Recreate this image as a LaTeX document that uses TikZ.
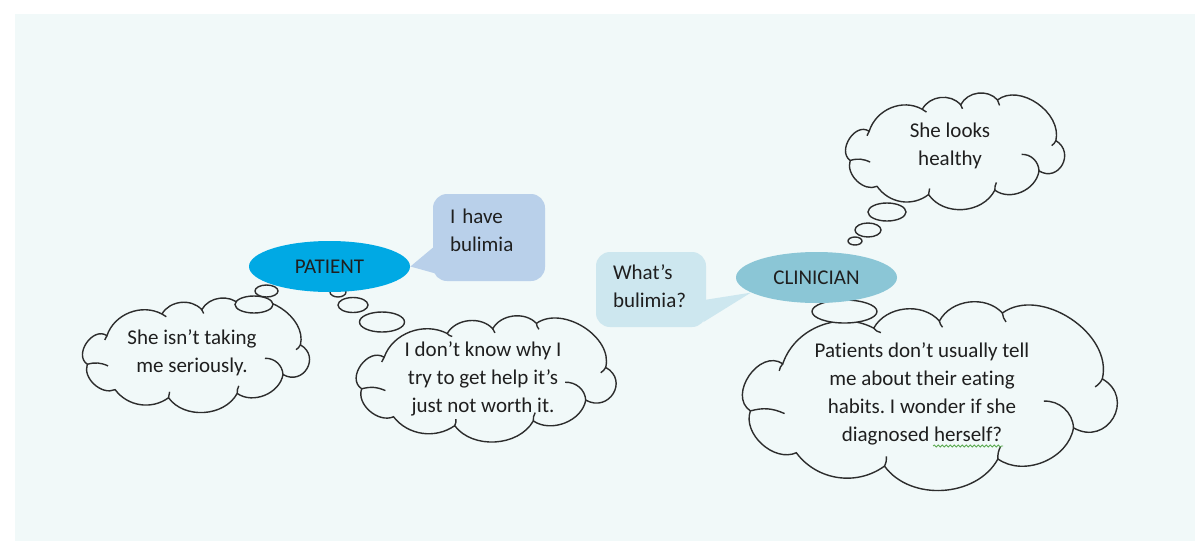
\documentclass[tikz,border=0pt]{standalone}
\usepackage{fontspec}
\setmainfont{Carlito}[Ligatures=NoCommon]
\frenchspacing
\usetikzlibrary{shapes.geometric,calc,decorations.pathmorphing}

\definecolor{pagebg}{RGB}{241,249,249}
\definecolor{patientblue}{RGB}{0,169,228}
\definecolor{clinicianblue}{RGB}{139,198,214}
\definecolor{herwords}{RGB}{185,208,234}
\definecolor{hiswords}{RGB}{205,231,239}
\definecolor{cloudline}{RGB}{45,45,45}
\definecolor{spellgreen}{RGB}{90,170,80}

\tikzset{
  every node/.style={font=\fontsize{10.5}{14}\selectfont,text=black!88},
  role/.style={ellipse,minimum width=80.5pt,minimum height=25.5pt,inner sep=0pt},
  saybox/.style={rectangle,rounded corners=7pt,inner xsep=8.5pt,align=left},
  thinktext/.style={align=center,inner sep=0pt},
  cloudedge/.style={draw=cloudline,line width=0.7pt,fill=pagebg},
  crease/.style={draw=cloudline,line width=0.7pt},
  dot/.style={ellipse,draw=cloudline,line width=0.7pt,fill=pagebg,inner sep=0pt},
  squiggle/.style={draw=spellgreen,line width=0.4pt,
    decorate,decoration={snake,segment length=2pt,amplitude=0.5pt}},
  % cloud outline on a 4.2 x 2 box, stretched where it is used
  thinkcloud/.pic={
    \path[cloudedge] (-2.04,0.19) to[bend left=90,looseness=1.25] (-1.68,-0.34)
      to[bend left=50] (-0.67,-0.74) to[bend left=55] (0.06,-0.82)
      to[bend left=55] (0.76,-0.91) to[bend left=70] (1.87,-0.17)
      to[bend left=90,looseness=1.75] (1.55,0.38) to[bend left=58] (0.71,0.73)
      to[bend left=58] (-0.55,0.81) to[bend left=45] (-1.53,0.66)
      to[bend left=67] (-2.04,0.19) -- cycle;
    \path[crease] (-2.04,0.19) to[bend left=20] (-1.66,0.22);
    \path[crease] (-1.68,-0.34) to[bend right=15] (-1.72,-0.26);
    \path[crease] (-0.67,-0.74) to[bend right=20] (-0.59,-0.69);
    \path[crease] (0.06,-0.82) to[bend right=15] (0.095,-0.75);
    \path[crease] (0.76,-0.91) to[bend right=15] (0.80,-0.81);
    \path[crease] (1.87,-0.17) to[bend left=15] (1.79,-0.08);
    \path[crease] (1.22,0.08) to[bend left=45] (1.55,0.38);
    \path[crease] (0.71,0.73) to[bend left=15] (0.74,0.59);
    \path[crease] (-0.55,0.81) to[bend right=15] (-0.53,0.70);
  }
}

\begin{document}
\begin{tikzpicture}[x=0.5pt,y=-0.5pt]
\useasboundingbox (0,0) rectangle (1195,542);
\fill[pagebg] (15,14) rectangle (1195,541);

% thought clouds
\path (198.5,354) pic[xscale=54.5,yscale=54] {thinkcloud};
\path (489,377.5) pic[xscale=62.4,yscale=59.5] {thinkcloud};
\path (957.5,150) pic[xscale=52.6,yscale=55] {thinkcloud};
\path (934,394) pic[xscale=90,yscale=89] {thinkcloud};

\node[thinktext] (serious) at (192,352.5) {She isn’t taking\\me seriously.};
\node[thinktext] (worth) at (483,379) {I don’t know why I\\try to get help it’s\\just not worth it.};
\node[thinktext] (healthy) at (950,146) {She looks\\healthy};
\node[thinktext] (habits) at (922,393.5)
  {Patients don’t usually tell\\me about their eating\\habits. I wonder if she\\diagnosed herself?};
\draw[squiggle] (933,446) -- (1003,446);

% little bubbles leading to the clouds
\node[dot,minimum width=19pt,minimum height=8.5pt] (seriousdot2) at (254,304.5) {};
\node[dot,minimum width=11.5pt,minimum height=6pt] (seriousdot1) at (266.5,291) {};
\node[dot,minimum width=8pt,minimum height=5pt] (worthdot1) at (338,292) {};
\node[dot,minimum width=15pt,minimum height=7.5pt] (worthdot2) at (353,305) {};
\node[dot,minimum width=22.5pt,minimum height=10pt] (worthdot3) at (382,322) {};
\node[dot,minimum width=19pt,minimum height=9pt] (healthydot3) at (887,212) {};
\node[dot,minimum width=13pt,minimum height=7pt] (healthydot2) at (868,230) {};
\node[dot,minimum width=7pt,minimum height=4pt] (healthydot1) at (855,241) {};
\node[dot,minimum width=15pt,minimum height=7pt] (habitsdot1) at (840,297) {};
\node[dot,minimum width=32.5pt,minimum height=11.5pt] (habitsdot2) at (844.5,311.5) {};

% speakers
\node[role,fill=patientblue] (patient) at (329.5,266.5) {PATIENT};
\node[role,fill=clinicianblue] (clinician) at (816.5,277.5) {CLINICIAN};

% speech callouts
\node[saybox,fill=herwords,text width=39pt,minimum height=43.5pt,text depth=21.5pt]
  (have) at (489,237.5) {I have\\bulimia};
\fill[herwords] ($(have.north west)!0.59!(have.south west)+(3,0)$) -- (patient.east)
  -- ($(have.north west)!0.91!(have.south west)+(3,0)$) -- cycle;
\node[saybox,fill=hiswords,text width=38pt,minimum height=37.5pt,text depth=17.5pt]
  (what) at (651,289.5) {What’s\\bulimia?};
\fill[hiswords] ($(what.north east)!0.64!(what.south east)-(3,0)$) -- (clinician.193)
  -- ($(what.north east)!0.93!(what.south east)-(3,0)$) -- cycle;
\end{tikzpicture}
\end{document}
